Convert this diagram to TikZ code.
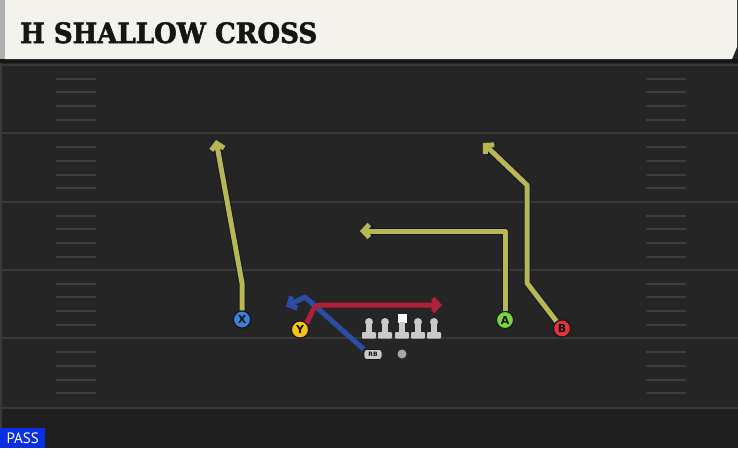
\documentclass[tikz,border=0pt]{standalone}
\usepackage{fontspec}
\setmainfont{DejaVu Sans}
\newfontfamily\titlefont{DejaVu Serif}[FakeStretch=0.93,BoldFeatures={FakeBold=2}]
\newfontfamily\passfont{PT Sans}
\usetikzlibrary{arrows.meta}
\definecolor{cream}{HTML}{F4F2EC}
\definecolor{stripgray}{HTML}{AFAFAF}
\definecolor{fieldbg}{HTML}{252525}
\definecolor{fieldbot}{HTML}{1F1F1F}
\definecolor{bandcol}{HTML}{151515}
\definecolor{linecol}{HTML}{3A3A3A}
\definecolor{hashcol}{HTML}{3E3E3E}
\definecolor{olive}{HTML}{B8B852}
\definecolor{edgecol}{HTML}{14142A}
\definecolor{redroute}{HTML}{B02038}
\definecolor{blueroute}{HTML}{2C4DA6}
\definecolor{xblue}{HTML}{3C80DC}
\definecolor{yyellow}{HTML}{F4C418}
\definecolor{agreen}{HTML}{7CD43C}
\definecolor{bred}{HTML}{E2323E}
\definecolor{olgray}{HTML}{CACACA}
\definecolor{passblue}{HTML}{0A2FE0}
\definecolor{inkcol}{HTML}{151515}
\begin{document}
\begin{tikzpicture}[x=1pt,y=-1pt,
  tipbarb/.style={-{Straight Barb[length=6pt,width=13pt]}},
  routeedge/.style={line width=7pt,line join=round,color=edgecol,tipbarb},
  routeol/.style={line width=5pt,line join=round,color=olive,tipbarb},
  routered/.style={line width=5pt,line join=round,color=redroute,tipbarb},
  routeblue/.style={line width=5pt,line join=round,color=blueroute,tipbarb},
  player/.style={circle,minimum size=17pt,inner sep=0pt,draw=inkcol,line width=1pt,
    text=inkcol,font=\bfseries\fontsize{11}{11}\selectfont},
  rbstyle/.style={draw=inkcol,line width=0.6pt,fill=olgray,rounded corners=3pt,minimum width=18pt,
    minimum height=10pt,inner sep=0pt,text=inkcol,font=\bfseries\fontsize{6}{6}\selectfont},
  fieldline/.style={line width=2.5pt,color=linecol},
  hashline/.style={line width=2pt,color=hashcol},
  lineman/.style={fill=olgray}
]
\useasboundingbox (0,0) rectangle (738,448);
% background
\fill[fieldbg] (0,0) rectangle (738,448);
\fill[fieldbot] (0,409) rectangle (738,448);
\fill[bandcol] (0,59) rectangle (738,63);
\fill[linecol] (0,63) rectangle (2,448);
% header
\fill[cream] (5,0) -- (737,0) -- (737,47) -- (732,59) -- (5,59) -- cycle;
\fill[stripgray] (0,0) rectangle (5,59);
\node[anchor=base west,inner sep=0pt,text=inkcol,
  font=\titlefont\bfseries\fontsize{28}{28}\selectfont] (title) at (20,43) {H SHALLOW CROSS};
% field lines
\foreach \yy in {65,133,202,270,338,408}
  \draw[fieldline] (2,\yy) -- (738,\yy);
% hash marks
\foreach \b in {65,133.5,202,270,338.5}
  \foreach \k in {1,2,3,4}{
    \draw[hashline] (56,\b+\k*13.7) -- (96,\b+\k*13.7);
    \draw[hashline] (646,\b+\k*13.7) -- (686,\b+\k*13.7);
  }
% PASS
\node[fill=passblue,text=white,anchor=south west,minimum width=45pt,minimum height=20pt,
  inner sep=0pt,font=\passfont\fontsize{15}{15}\selectfont] (pass) at (0,448) {PASS};
% linemen
\foreach \lx in {369,385,418,434}{
  \fill[lineman] (\lx,322) circle (4pt);
  \fill[lineman] (\lx-2.8,322) rectangle (\lx+2.8,334);
  \fill[lineman,rounded corners=1pt] (\lx-7,332) rectangle (\lx+7,338.5);
}
\fill[white] (397.5,313.5) rectangle (406.5,322.5);
\fill[lineman] (399.2,322) rectangle (404.8,334);
\fill[lineman,rounded corners=1pt] (395,332) rectangle (409,338.5);
% ball
\node[circle,fill=gray!70,minimum size=9pt,inner sep=0pt] (ball) at (402,354) {};
% players
\node[player,fill=xblue] (X) at (242,319.5) {X};
\node[player,fill=yyellow] (Y) at (300,329.5) {Y};
\node[player,fill=agreen] (A) at (505,320) {A};
\node[player,fill=bred] (B) at (562,328.5) {B};
\node[rbstyle] (RB) at (373,354.5) {RB};
% route coordinates
\coordinate (x1) at (242,283);
\coordinate (x2) at (216,140);
\coordinate (a1) at (505,231);
\coordinate (a2) at (360,231);
\coordinate (b1) at (527,283);
\coordinate (b2) at (527,185);
\coordinate (b3) at (483,143);
\coordinate (y1) at (321,305);
\coordinate (y2) at (442,305);
\coordinate (r1) at (305,297);
\coordinate (r2) at (286,306.5);
% routes
\draw[routeblue] (RB.north west) -- (r1) -- (r2);
\draw[routered] (Y.north east) to[out=55,in=180] (y1) -- (y2);
\draw[routeedge] (X) -- (x1) -- (x2);
\draw[routeol] (X) -- (x1) -- (x2);
\draw[routeedge] (A) -- (a1) -- (a2);
\draw[routeol] (A) -- (a1) -- (a2);
\draw[routeedge] (B) -- (b1) -- (b2) -- (b3);
\draw[routeol] (B) -- (b1) -- (b2) -- (b3);
% redraw players on top
\node[player,fill=xblue] at (X) {X};
\node[player,fill=yyellow] at (Y) {Y};
\node[player,fill=agreen] at (A) {A};
\node[player,fill=bred] at (B) {B};
\node[rbstyle] at (RB) {RB};
\end{tikzpicture}
\end{document}
